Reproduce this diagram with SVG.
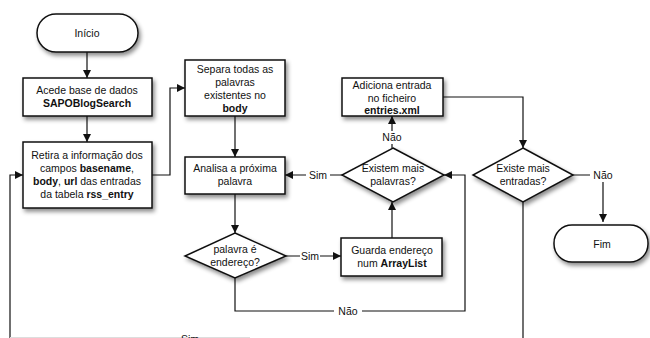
<svg xmlns="http://www.w3.org/2000/svg" width="650" height="338" viewBox="0 0 650 338">
  <style>
    text { font-family: "Liberation Sans", Arial, sans-serif; font-size: 10.5px; fill: #111; text-anchor: middle; }
    .b { font-weight: bold; }
    .shape { fill: #fff; stroke: #111; stroke-width: 1.5; filter: url(#shadow); }
    .wire { fill: none; stroke: #111; stroke-width: 1.2; }
    .lbl { fill: #fff; stroke: none; }
  </style>
  <defs>
    <filter id="shadow" x="-20%" y="-20%" width="150%" height="160%">
      <feDropShadow dx="2" dy="3" stdDeviation="2" flood-color="#000" flood-opacity="0.45"/>
    </filter>
    <marker id="arrow" viewBox="0 0 10 10" refX="10" refY="5" markerWidth="8" markerHeight="8" markerUnits="userSpaceOnUse" orient="auto">
      <path d="M0,0 L10,5 L0,10 z" fill="#111"/>
    </marker>
  </defs>

  <!-- connectors -->
  <g id="connectors">
    <path class="wire" d="M87,52 V78" marker-end="url(#arrow)"/>
    <path class="wire" d="M87,116 V142" marker-end="url(#arrow)"/>
    <path class="wire" d="M152,175 H170 V88 H185" marker-end="url(#arrow)"/>
    <path class="wire" d="M235,116 V157" marker-end="url(#arrow)"/>
    <path class="wire" d="M235,194 V233" marker-end="url(#arrow)"/>
    <path class="wire" d="M286,256 H341" marker-end="url(#arrow)"/>
    <path class="wire" d="M392,238 V202" marker-end="url(#arrow)"/>
    <path class="wire" d="M342,175 H285" marker-end="url(#arrow)"/>
    <path class="wire" d="M392,148 V116" marker-end="url(#arrow)"/>
    <path class="wire" d="M443,97 H523 V148" marker-end="url(#arrow)"/>
    <path class="wire" d="M573,175 H603 V222" marker-end="url(#arrow)"/>
    <path class="wire" d="M523,202 V338"/>
    <path class="wire" d="M235,278 V311 H465 V175 H444" marker-end="url(#arrow)"/>
    <path class="wire" d="M10,338 V175 H23" marker-end="url(#arrow)"/>
    <path d="M10,337.5 H250" fill="none" stroke="#ddd" stroke-width="1"/>

    <!-- labels on connectors -->
    <rect class="lbl" x="300" y="249" width="20" height="14"/>
    <text x="310" y="260">Sim</text>
    <rect class="lbl" x="306" y="168" width="24" height="14"/>
    <text x="318" y="179">Sim</text>
    <rect class="lbl" x="381" y="131" width="22" height="13"/>
    <text x="392" y="141">Não</text>
    <rect class="lbl" x="590" y="168" width="24" height="14"/>
    <text x="603" y="179">Não</text>
    <rect class="lbl" x="334" y="304" width="28" height="14"/>
    <text x="348" y="315">Não</text>
    <text x="190" y="343">Sim</text>
  </g>

  <g id="inicio">
    <rect class="shape" x="37" y="14" width="101" height="38" rx="19"/>
    <text x="87" y="37">Início</text>
  </g>

  <g id="acede">
    <rect class="shape" x="23" y="78" width="129" height="38"/>
    <text x="87" y="94">Acede base de dados</text>
    <text x="87" y="107" class="b">SAPOBlogSearch</text>
  </g>

  <g id="retira">
    <rect class="shape" x="23" y="142" width="129" height="66"/>
    <text x="87" y="159">Retira a informação dos</text>
    <text x="87" y="172">campos <tspan class="b">basename</tspan>,</text>
    <text x="87" y="185"><tspan class="b">body</tspan>, <tspan class="b">url</tspan> das entradas</text>
    <text x="87" y="198">da tabela <tspan class="b">rss_entry</tspan></text>
  </g>

  <g id="separa">
    <rect class="shape" x="185" y="60" width="100" height="56"/>
    <text x="235" y="73">Separa todas as</text>
    <text x="235" y="86">palavras</text>
    <text x="235" y="99">existentes no</text>
    <text x="235" y="112" class="b">body</text>
  </g>

  <g id="analisa">
    <rect class="shape" x="185" y="157" width="100" height="37"/>
    <text x="235" y="172">Analisa a próxima</text>
    <text x="235" y="185">palavra</text>
  </g>

  <g id="endereco">
    <polygon class="shape" points="235,233 286,256 235,278 185,256"/>
    <text x="235" y="253">palavra é</text>
    <text x="235" y="266">endereço?</text>
  </g>

  <g id="guarda">
    <rect class="shape" x="341" y="238" width="101" height="38"/>
    <text x="392" y="254">Guarda endereço</text>
    <text x="392" y="267">num <tspan class="b">ArrayList</tspan></text>
  </g>

  <g id="palavras">
    <polygon class="shape" points="393,148 444,175 393,202 342,175"/>
    <text x="393" y="172">Existem mais</text>
    <text x="393" y="185">palavras?</text>
  </g>

  <g id="adiciona">
    <rect class="shape" x="342" y="78" width="101" height="38"/>
    <text x="392" y="89">Adiciona entrada</text>
    <text x="392" y="102">no ficheiro</text>
    <text x="392" y="114" class="b">entries.xml</text>
  </g>

  <g id="entradas">
    <polygon class="shape" points="523,148 573,175 523,202 473,175"/>
    <text x="523" y="172">Existe mais</text>
    <text x="523" y="185">entradas?</text>
  </g>

  <g id="fim">
    <rect class="shape" x="554" y="225" width="94" height="37" rx="18"/>
    <text x="602" y="248">Fim</text>
  </g>
</svg>
